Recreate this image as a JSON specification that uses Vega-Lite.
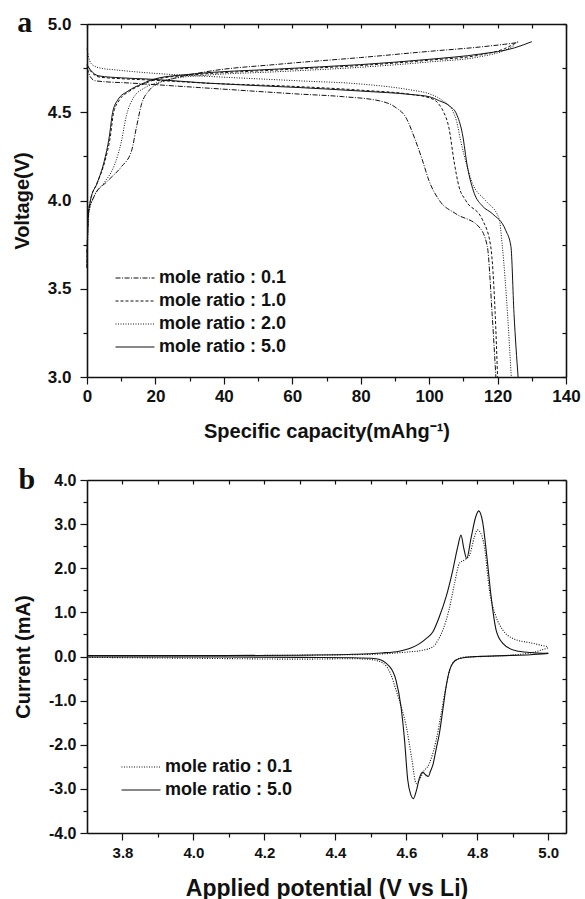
{
  "$schema": "https://vega.github.io/schema/vega-lite/v6.json",
  "padding": {"left": 12, "top": 8, "right": 0, "bottom": 0},
  "background": "white",
  "config": {
    "view": {"stroke": null},
    "font": "Liberation Sans",
    "axis": {"grid": false, "domainColor": "#111", "domainWidth": 1.6, "tickColor": "#111", "tickWidth": 1.2,
      "labelFont": "Liberation Sans", "labelFontWeight": "bold", "labelFontSize": 16, "labelColor": "#111",
      "titleFont": "Liberation Sans", "titleFontWeight": "bold", "titleFontSize": 20, "titleColor": "#111",
      "labelFlush": false, "labelOverlap": false},
    "legend": {"orient": "none", "title": null, "symbolType": "stroke", "symbolSize": 1521, "symbolStrokeColor": "#111",
      "symbolStrokeWidth": 1, "labelFont": "Liberation Sans", "labelFontWeight": "bold", "labelFontSize": 18,
      "labelColor": "#111", "labelOffset": 4, "clipHeight": 18, "rowPadding": 5, "padding": 0}
  },
  "datasets": {
    "cap": [
      {"x": 0, "v": 3.62, "ratio": "mole ratio : 5.0", "curve": "charge"},
      {"x": 0.3, "v": 3.9, "ratio": "mole ratio : 5.0", "curve": "charge"},
      {"x": 1, "v": 4.0, "ratio": "mole ratio : 5.0", "curve": "charge"},
      {"x": 3, "v": 4.1, "ratio": "mole ratio : 5.0", "curve": "charge"},
      {"x": 5, "v": 4.22, "ratio": "mole ratio : 5.0", "curve": "charge"},
      {"x": 6.5, "v": 4.36, "ratio": "mole ratio : 5.0", "curve": "charge"},
      {"x": 7.5, "v": 4.5, "ratio": "mole ratio : 5.0", "curve": "charge"},
      {"x": 9, "v": 4.57, "ratio": "mole ratio : 5.0", "curve": "charge"},
      {"x": 12, "v": 4.62, "ratio": "mole ratio : 5.0", "curve": "charge"},
      {"x": 16, "v": 4.66, "ratio": "mole ratio : 5.0", "curve": "charge"},
      {"x": 20, "v": 4.69, "ratio": "mole ratio : 5.0", "curve": "charge"},
      {"x": 30, "v": 4.715, "ratio": "mole ratio : 5.0", "curve": "charge"},
      {"x": 56, "v": 4.745, "ratio": "mole ratio : 5.0", "curve": "charge"},
      {"x": 80, "v": 4.77, "ratio": "mole ratio : 5.0", "curve": "charge"},
      {"x": 100, "v": 4.8, "ratio": "mole ratio : 5.0", "curve": "charge"},
      {"x": 115, "v": 4.83, "ratio": "mole ratio : 5.0", "curve": "charge"},
      {"x": 125, "v": 4.865, "ratio": "mole ratio : 5.0", "curve": "charge"},
      {"x": 130, "v": 4.9, "ratio": "mole ratio : 5.0", "curve": "charge"},

      {"x": 0, "v": 3.62, "ratio": "mole ratio : 1.0", "curve": "charge"},
      {"x": 0.3, "v": 3.9, "ratio": "mole ratio : 1.0", "curve": "charge"},
      {"x": 1, "v": 4.0, "ratio": "mole ratio : 1.0", "curve": "charge"},
      {"x": 3, "v": 4.1, "ratio": "mole ratio : 1.0", "curve": "charge"},
      {"x": 5.2, "v": 4.22, "ratio": "mole ratio : 1.0", "curve": "charge"},
      {"x": 6.8, "v": 4.36, "ratio": "mole ratio : 1.0", "curve": "charge"},
      {"x": 7.8, "v": 4.5, "ratio": "mole ratio : 1.0", "curve": "charge"},
      {"x": 9.5, "v": 4.57, "ratio": "mole ratio : 1.0", "curve": "charge"},
      {"x": 12.5, "v": 4.62, "ratio": "mole ratio : 1.0", "curve": "charge"},
      {"x": 16.5, "v": 4.66, "ratio": "mole ratio : 1.0", "curve": "charge"},
      {"x": 21, "v": 4.69, "ratio": "mole ratio : 1.0", "curve": "charge"},
      {"x": 30, "v": 4.71, "ratio": "mole ratio : 1.0", "curve": "charge"},
      {"x": 56, "v": 4.74, "ratio": "mole ratio : 1.0", "curve": "charge"},
      {"x": 80, "v": 4.765, "ratio": "mole ratio : 1.0", "curve": "charge"},
      {"x": 100, "v": 4.795, "ratio": "mole ratio : 1.0", "curve": "charge"},
      {"x": 115, "v": 4.825, "ratio": "mole ratio : 1.0", "curve": "charge"},
      {"x": 122, "v": 4.86, "ratio": "mole ratio : 1.0", "curve": "charge"},
      {"x": 126, "v": 4.9, "ratio": "mole ratio : 1.0", "curve": "charge"},

      {"x": 0, "v": 3.62, "ratio": "mole ratio : 2.0", "curve": "charge"},
      {"x": 0.5, "v": 3.92, "ratio": "mole ratio : 2.0", "curve": "charge"},
      {"x": 2, "v": 4.02, "ratio": "mole ratio : 2.0", "curve": "charge"},
      {"x": 5, "v": 4.1, "ratio": "mole ratio : 2.0", "curve": "charge"},
      {"x": 8, "v": 4.2, "ratio": "mole ratio : 2.0", "curve": "charge"},
      {"x": 10, "v": 4.33, "ratio": "mole ratio : 2.0", "curve": "charge"},
      {"x": 11.5, "v": 4.48, "ratio": "mole ratio : 2.0", "curve": "charge"},
      {"x": 13.5, "v": 4.58, "ratio": "mole ratio : 2.0", "curve": "charge"},
      {"x": 17, "v": 4.64, "ratio": "mole ratio : 2.0", "curve": "charge"},
      {"x": 21, "v": 4.67, "ratio": "mole ratio : 2.0", "curve": "charge"},
      {"x": 25, "v": 4.69, "ratio": "mole ratio : 2.0", "curve": "charge"},
      {"x": 35, "v": 4.71, "ratio": "mole ratio : 2.0", "curve": "charge"},
      {"x": 56, "v": 4.73, "ratio": "mole ratio : 2.0", "curve": "charge"},
      {"x": 80, "v": 4.755, "ratio": "mole ratio : 2.0", "curve": "charge"},
      {"x": 100, "v": 4.785, "ratio": "mole ratio : 2.0", "curve": "charge"},
      {"x": 115, "v": 4.815, "ratio": "mole ratio : 2.0", "curve": "charge"},
      {"x": 122, "v": 4.85, "ratio": "mole ratio : 2.0", "curve": "charge"},
      {"x": 125, "v": 4.88, "ratio": "mole ratio : 2.0", "curve": "charge"},

      {"x": 0, "v": 3.7, "ratio": "mole ratio : 0.1", "curve": "charge"},
      {"x": 0.5, "v": 3.94, "ratio": "mole ratio : 0.1", "curve": "charge"},
      {"x": 2, "v": 4.02, "ratio": "mole ratio : 0.1", "curve": "charge"},
      {"x": 6, "v": 4.11, "ratio": "mole ratio : 0.1", "curve": "charge"},
      {"x": 10, "v": 4.19, "ratio": "mole ratio : 0.1", "curve": "charge"},
      {"x": 13, "v": 4.28, "ratio": "mole ratio : 0.1", "curve": "charge"},
      {"x": 14.5, "v": 4.42, "ratio": "mole ratio : 0.1", "curve": "charge"},
      {"x": 16, "v": 4.55, "ratio": "mole ratio : 0.1", "curve": "charge"},
      {"x": 18, "v": 4.62, "ratio": "mole ratio : 0.1", "curve": "charge"},
      {"x": 21, "v": 4.665, "ratio": "mole ratio : 0.1", "curve": "charge"},
      {"x": 25, "v": 4.69, "ratio": "mole ratio : 0.1", "curve": "charge"},
      {"x": 35, "v": 4.73, "ratio": "mole ratio : 0.1", "curve": "charge"},
      {"x": 56, "v": 4.772, "ratio": "mole ratio : 0.1", "curve": "charge"},
      {"x": 80, "v": 4.81, "ratio": "mole ratio : 0.1", "curve": "charge"},
      {"x": 100, "v": 4.845, "ratio": "mole ratio : 0.1", "curve": "charge"},
      {"x": 115, "v": 4.87, "ratio": "mole ratio : 0.1", "curve": "charge"},
      {"x": 122, "v": 4.885, "ratio": "mole ratio : 0.1", "curve": "charge"},
      {"x": 126, "v": 4.895, "ratio": "mole ratio : 0.1", "curve": "charge"},

      {"x": 0, "v": 4.77, "ratio": "mole ratio : 5.0", "curve": "discharge"},
      {"x": 1, "v": 4.74, "ratio": "mole ratio : 5.0", "curve": "discharge"},
      {"x": 3.5, "v": 4.706, "ratio": "mole ratio : 5.0", "curve": "discharge"},
      {"x": 10, "v": 4.695, "ratio": "mole ratio : 5.0", "curve": "discharge"},
      {"x": 18, "v": 4.688, "ratio": "mole ratio : 5.0", "curve": "discharge"},
      {"x": 35, "v": 4.665, "ratio": "mole ratio : 5.0", "curve": "discharge"},
      {"x": 62, "v": 4.64, "ratio": "mole ratio : 5.0", "curve": "discharge"},
      {"x": 80, "v": 4.62, "ratio": "mole ratio : 5.0", "curve": "discharge"},
      {"x": 95, "v": 4.6, "ratio": "mole ratio : 5.0", "curve": "discharge"},
      {"x": 100, "v": 4.588, "ratio": "mole ratio : 5.0", "curve": "discharge"},
      {"x": 103, "v": 4.565, "ratio": "mole ratio : 5.0", "curve": "discharge"},
      {"x": 106, "v": 4.535, "ratio": "mole ratio : 5.0", "curve": "discharge"},
      {"x": 108, "v": 4.49, "ratio": "mole ratio : 5.0", "curve": "discharge"},
      {"x": 109.7, "v": 4.38, "ratio": "mole ratio : 5.0", "curve": "discharge"},
      {"x": 111.2, "v": 4.19, "ratio": "mole ratio : 5.0", "curve": "discharge"},
      {"x": 113.2, "v": 4.04, "ratio": "mole ratio : 5.0", "curve": "discharge"},
      {"x": 115.5, "v": 3.97, "ratio": "mole ratio : 5.0", "curve": "discharge"},
      {"x": 118.5, "v": 3.925, "ratio": "mole ratio : 5.0", "curve": "discharge"},
      {"x": 122.4, "v": 3.83, "ratio": "mole ratio : 5.0", "curve": "discharge"},
      {"x": 123.9, "v": 3.74, "ratio": "mole ratio : 5.0", "curve": "discharge"},
      {"x": 124.8, "v": 3.36, "ratio": "mole ratio : 5.0", "curve": "discharge"},
      {"x": 126, "v": 3.0, "ratio": "mole ratio : 5.0", "curve": "discharge"},

      {"x": 0, "v": 4.765, "ratio": "mole ratio : 1.0", "curve": "discharge"},
      {"x": 1, "v": 4.735, "ratio": "mole ratio : 1.0", "curve": "discharge"},
      {"x": 3.5, "v": 4.7, "ratio": "mole ratio : 1.0", "curve": "discharge"},
      {"x": 10, "v": 4.69, "ratio": "mole ratio : 1.0", "curve": "discharge"},
      {"x": 18, "v": 4.683, "ratio": "mole ratio : 1.0", "curve": "discharge"},
      {"x": 35, "v": 4.665, "ratio": "mole ratio : 1.0", "curve": "discharge"},
      {"x": 62, "v": 4.645, "ratio": "mole ratio : 1.0", "curve": "discharge"},
      {"x": 80, "v": 4.625, "ratio": "mole ratio : 1.0", "curve": "discharge"},
      {"x": 95, "v": 4.6, "ratio": "mole ratio : 1.0", "curve": "discharge"},
      {"x": 100, "v": 4.582, "ratio": "mole ratio : 1.0", "curve": "discharge"},
      {"x": 102, "v": 4.563, "ratio": "mole ratio : 1.0", "curve": "discharge"},
      {"x": 104, "v": 4.51, "ratio": "mole ratio : 1.0", "curve": "discharge"},
      {"x": 105.8, "v": 4.41, "ratio": "mole ratio : 1.0", "curve": "discharge"},
      {"x": 107.3, "v": 4.22, "ratio": "mole ratio : 1.0", "curve": "discharge"},
      {"x": 108.7, "v": 4.08, "ratio": "mole ratio : 1.0", "curve": "discharge"},
      {"x": 110.7, "v": 4.0, "ratio": "mole ratio : 1.0", "curve": "discharge"},
      {"x": 115.6, "v": 3.89, "ratio": "mole ratio : 1.0", "curve": "discharge"},
      {"x": 118, "v": 3.74, "ratio": "mole ratio : 1.0", "curve": "discharge"},
      {"x": 119.3, "v": 3.36, "ratio": "mole ratio : 1.0", "curve": "discharge"},
      {"x": 120, "v": 3.0, "ratio": "mole ratio : 1.0", "curve": "discharge"},

      {"x": 0, "v": 4.86, "ratio": "mole ratio : 2.0", "curve": "discharge"},
      {"x": 0.5, "v": 4.81, "ratio": "mole ratio : 2.0", "curve": "discharge"},
      {"x": 1.5, "v": 4.77, "ratio": "mole ratio : 2.0", "curve": "discharge"},
      {"x": 4, "v": 4.75, "ratio": "mole ratio : 2.0", "curve": "discharge"},
      {"x": 8.4, "v": 4.74, "ratio": "mole ratio : 2.0", "curve": "discharge"},
      {"x": 20, "v": 4.72, "ratio": "mole ratio : 2.0", "curve": "discharge"},
      {"x": 32.7, "v": 4.706, "ratio": "mole ratio : 2.0", "curve": "discharge"},
      {"x": 62, "v": 4.678, "ratio": "mole ratio : 2.0", "curve": "discharge"},
      {"x": 80, "v": 4.66, "ratio": "mole ratio : 2.0", "curve": "discharge"},
      {"x": 95, "v": 4.625, "ratio": "mole ratio : 2.0", "curve": "discharge"},
      {"x": 100, "v": 4.605, "ratio": "mole ratio : 2.0", "curve": "discharge"},
      {"x": 104, "v": 4.565, "ratio": "mole ratio : 2.0", "curve": "discharge"},
      {"x": 106.8, "v": 4.51, "ratio": "mole ratio : 2.0", "curve": "discharge"},
      {"x": 108, "v": 4.45, "ratio": "mole ratio : 2.0", "curve": "discharge"},
      {"x": 109.2, "v": 4.34, "ratio": "mole ratio : 2.0", "curve": "discharge"},
      {"x": 111, "v": 4.2, "ratio": "mole ratio : 2.0", "curve": "discharge"},
      {"x": 112.6, "v": 4.1, "ratio": "mole ratio : 2.0", "curve": "discharge"},
      {"x": 116.5, "v": 4.0, "ratio": "mole ratio : 2.0", "curve": "discharge"},
      {"x": 120.4, "v": 3.9, "ratio": "mole ratio : 2.0", "curve": "discharge"},
      {"x": 121.4, "v": 3.74, "ratio": "mole ratio : 2.0", "curve": "discharge"},
      {"x": 122.9, "v": 3.36, "ratio": "mole ratio : 2.0", "curve": "discharge"},
      {"x": 124, "v": 3.0, "ratio": "mole ratio : 2.0", "curve": "discharge"},

      {"x": 0, "v": 4.753, "ratio": "mole ratio : 0.1", "curve": "discharge"},
      {"x": 1, "v": 4.7, "ratio": "mole ratio : 0.1", "curve": "discharge"},
      {"x": 2.5, "v": 4.678, "ratio": "mole ratio : 0.1", "curve": "discharge"},
      {"x": 13, "v": 4.665, "ratio": "mole ratio : 0.1", "curve": "discharge"},
      {"x": 32.7, "v": 4.64, "ratio": "mole ratio : 0.1", "curve": "discharge"},
      {"x": 62, "v": 4.603, "ratio": "mole ratio : 0.1", "curve": "discharge"},
      {"x": 75, "v": 4.588, "ratio": "mole ratio : 0.1", "curve": "discharge"},
      {"x": 85.4, "v": 4.565, "ratio": "mole ratio : 0.1", "curve": "discharge"},
      {"x": 90, "v": 4.53, "ratio": "mole ratio : 0.1", "curve": "discharge"},
      {"x": 93.2, "v": 4.47, "ratio": "mole ratio : 0.1", "curve": "discharge"},
      {"x": 96, "v": 4.34, "ratio": "mole ratio : 0.1", "curve": "discharge"},
      {"x": 98, "v": 4.23, "ratio": "mole ratio : 0.1", "curve": "discharge"},
      {"x": 100, "v": 4.11, "ratio": "mole ratio : 0.1", "curve": "discharge"},
      {"x": 103, "v": 4.0, "ratio": "mole ratio : 0.1", "curve": "discharge"},
      {"x": 107.8, "v": 3.925, "ratio": "mole ratio : 0.1", "curve": "discharge"},
      {"x": 114.6, "v": 3.85, "ratio": "mole ratio : 0.1", "curve": "discharge"},
      {"x": 117, "v": 3.74, "ratio": "mole ratio : 0.1", "curve": "discharge"},
      {"x": 118.4, "v": 3.36, "ratio": "mole ratio : 0.1", "curve": "discharge"},
      {"x": 119.5, "v": 3.0, "ratio": "mole ratio : 0.1", "curve": "discharge"}
    ],
    "cv": [
      {"V": 3.7, "I": 0.02, "ratio": "mole ratio : 5.0", "branch": "anodic"},
      {"V": 4.0, "I": 0.02, "ratio": "mole ratio : 5.0", "branch": "anodic"},
      {"V": 4.3, "I": 0.03, "ratio": "mole ratio : 5.0", "branch": "anodic"},
      {"V": 4.45, "I": 0.05, "ratio": "mole ratio : 5.0", "branch": "anodic"},
      {"V": 4.53, "I": 0.08, "ratio": "mole ratio : 5.0", "branch": "anodic"},
      {"V": 4.58, "I": 0.12, "ratio": "mole ratio : 5.0", "branch": "anodic"},
      {"V": 4.609, "I": 0.18, "ratio": "mole ratio : 5.0", "branch": "anodic"},
      {"V": 4.635, "I": 0.28, "ratio": "mole ratio : 5.0", "branch": "anodic"},
      {"V": 4.655, "I": 0.4, "ratio": "mole ratio : 5.0", "branch": "anodic"},
      {"V": 4.675, "I": 0.56, "ratio": "mole ratio : 5.0", "branch": "anodic"},
      {"V": 4.693, "I": 0.9, "ratio": "mole ratio : 5.0", "branch": "anodic"},
      {"V": 4.712, "I": 1.35, "ratio": "mole ratio : 5.0", "branch": "anodic"},
      {"V": 4.731, "I": 1.96, "ratio": "mole ratio : 5.0", "branch": "anodic"},
      {"V": 4.745, "I": 2.49, "ratio": "mole ratio : 5.0", "branch": "anodic"},
      {"V": 4.754, "I": 2.75, "ratio": "mole ratio : 5.0", "branch": "anodic"},
      {"V": 4.762, "I": 2.45, "ratio": "mole ratio : 5.0", "branch": "anodic"},
      {"V": 4.77, "I": 2.22, "ratio": "mole ratio : 5.0", "branch": "anodic"},
      {"V": 4.783, "I": 2.71, "ratio": "mole ratio : 5.0", "branch": "anodic"},
      {"V": 4.795, "I": 3.15, "ratio": "mole ratio : 5.0", "branch": "anodic"},
      {"V": 4.804, "I": 3.3, "ratio": "mole ratio : 5.0", "branch": "anodic"},
      {"V": 4.815, "I": 3.05, "ratio": "mole ratio : 5.0", "branch": "anodic"},
      {"V": 4.827, "I": 2.26, "ratio": "mole ratio : 5.0", "branch": "anodic"},
      {"V": 4.839, "I": 1.35, "ratio": "mole ratio : 5.0", "branch": "anodic"},
      {"V": 4.853, "I": 0.6, "ratio": "mole ratio : 5.0", "branch": "anodic"},
      {"V": 4.872, "I": 0.3, "ratio": "mole ratio : 5.0", "branch": "anodic"},
      {"V": 4.909, "I": 0.13, "ratio": "mole ratio : 5.0", "branch": "anodic"},
      {"V": 4.95, "I": 0.09, "ratio": "mole ratio : 5.0", "branch": "anodic"},
      {"V": 5.0, "I": 0.07, "ratio": "mole ratio : 5.0", "branch": "anodic"},

      {"V": 3.7, "I": -0.01, "ratio": "mole ratio : 5.0", "branch": "cathodic"},
      {"V": 4.0, "I": -0.01, "ratio": "mole ratio : 5.0", "branch": "cathodic"},
      {"V": 4.3, "I": -0.02, "ratio": "mole ratio : 5.0", "branch": "cathodic"},
      {"V": 4.45, "I": -0.03, "ratio": "mole ratio : 5.0", "branch": "cathodic"},
      {"V": 4.515, "I": -0.05, "ratio": "mole ratio : 5.0", "branch": "cathodic"},
      {"V": 4.553, "I": -0.23, "ratio": "mole ratio : 5.0", "branch": "cathodic"},
      {"V": 4.571, "I": -0.54, "ratio": "mole ratio : 5.0", "branch": "cathodic"},
      {"V": 4.585, "I": -1.14, "ratio": "mole ratio : 5.0", "branch": "cathodic"},
      {"V": 4.595, "I": -1.9, "ratio": "mole ratio : 5.0", "branch": "cathodic"},
      {"V": 4.604, "I": -2.8, "ratio": "mole ratio : 5.0", "branch": "cathodic"},
      {"V": 4.612, "I": -3.12, "ratio": "mole ratio : 5.0", "branch": "cathodic"},
      {"V": 4.62, "I": -3.22, "ratio": "mole ratio : 5.0", "branch": "cathodic"},
      {"V": 4.628, "I": -3.05, "ratio": "mole ratio : 5.0", "branch": "cathodic"},
      {"V": 4.637, "I": -2.75, "ratio": "mole ratio : 5.0", "branch": "cathodic"},
      {"V": 4.646, "I": -2.62, "ratio": "mole ratio : 5.0", "branch": "cathodic"},
      {"V": 4.654, "I": -2.68, "ratio": "mole ratio : 5.0", "branch": "cathodic"},
      {"V": 4.662, "I": -2.72, "ratio": "mole ratio : 5.0", "branch": "cathodic"},
      {"V": 4.668, "I": -2.6, "ratio": "mole ratio : 5.0", "branch": "cathodic"},
      {"V": 4.675, "I": -2.45, "ratio": "mole ratio : 5.0", "branch": "cathodic"},
      {"V": 4.684, "I": -2.1, "ratio": "mole ratio : 5.0", "branch": "cathodic"},
      {"V": 4.693, "I": -1.75, "ratio": "mole ratio : 5.0", "branch": "cathodic"},
      {"V": 4.703, "I": -1.2, "ratio": "mole ratio : 5.0", "branch": "cathodic"},
      {"V": 4.712, "I": -0.69, "ratio": "mole ratio : 5.0", "branch": "cathodic"},
      {"V": 4.722, "I": -0.31, "ratio": "mole ratio : 5.0", "branch": "cathodic"},
      {"V": 4.74, "I": -0.08, "ratio": "mole ratio : 5.0", "branch": "cathodic"},
      {"V": 4.76, "I": -0.03, "ratio": "mole ratio : 5.0", "branch": "cathodic"},
      {"V": 4.8, "I": 0.0, "ratio": "mole ratio : 5.0", "branch": "cathodic"},
      {"V": 4.88, "I": 0.02, "ratio": "mole ratio : 5.0", "branch": "cathodic"},
      {"V": 4.95, "I": 0.04, "ratio": "mole ratio : 5.0", "branch": "cathodic"},
      {"V": 5.0, "I": 0.07, "ratio": "mole ratio : 5.0", "branch": "cathodic"},

      {"V": 3.7, "I": 0.02, "ratio": "mole ratio : 0.1", "branch": "anodic"},
      {"V": 4.0, "I": 0.02, "ratio": "mole ratio : 0.1", "branch": "anodic"},
      {"V": 4.3, "I": 0.03, "ratio": "mole ratio : 0.1", "branch": "anodic"},
      {"V": 4.5, "I": 0.05, "ratio": "mole ratio : 0.1", "branch": "anodic"},
      {"V": 4.6, "I": 0.1, "ratio": "mole ratio : 0.1", "branch": "anodic"},
      {"V": 4.645, "I": 0.14, "ratio": "mole ratio : 0.1", "branch": "anodic"},
      {"V": 4.675, "I": 0.22, "ratio": "mole ratio : 0.1", "branch": "anodic"},
      {"V": 4.69, "I": 0.38, "ratio": "mole ratio : 0.1", "branch": "anodic"},
      {"V": 4.703, "I": 0.6, "ratio": "mole ratio : 0.1", "branch": "anodic"},
      {"V": 4.72, "I": 1.05, "ratio": "mole ratio : 0.1", "branch": "anodic"},
      {"V": 4.736, "I": 1.66, "ratio": "mole ratio : 0.1", "branch": "anodic"},
      {"V": 4.75, "I": 2.12, "ratio": "mole ratio : 0.1", "branch": "anodic"},
      {"V": 4.764, "I": 2.19, "ratio": "mole ratio : 0.1", "branch": "anodic"},
      {"V": 4.778, "I": 2.3, "ratio": "mole ratio : 0.1", "branch": "anodic"},
      {"V": 4.792, "I": 2.71, "ratio": "mole ratio : 0.1", "branch": "anodic"},
      {"V": 4.8, "I": 2.87, "ratio": "mole ratio : 0.1", "branch": "anodic"},
      {"V": 4.81, "I": 2.79, "ratio": "mole ratio : 0.1", "branch": "anodic"},
      {"V": 4.82, "I": 2.49, "ratio": "mole ratio : 0.1", "branch": "anodic"},
      {"V": 4.834, "I": 1.51, "ratio": "mole ratio : 0.1", "branch": "anodic"},
      {"V": 4.853, "I": 0.9, "ratio": "mole ratio : 0.1", "branch": "anodic"},
      {"V": 4.872, "I": 0.6, "ratio": "mole ratio : 0.1", "branch": "anodic"},
      {"V": 4.9, "I": 0.41, "ratio": "mole ratio : 0.1", "branch": "anodic"},
      {"V": 4.956, "I": 0.3, "ratio": "mole ratio : 0.1", "branch": "anodic"},
      {"V": 5.0, "I": 0.22, "ratio": "mole ratio : 0.1", "branch": "anodic"},

      {"V": 3.7, "I": -0.02, "ratio": "mole ratio : 0.1", "branch": "cathodic"},
      {"V": 4.0, "I": -0.04, "ratio": "mole ratio : 0.1", "branch": "cathodic"},
      {"V": 4.3, "I": -0.06, "ratio": "mole ratio : 0.1", "branch": "cathodic"},
      {"V": 4.45, "I": -0.05, "ratio": "mole ratio : 0.1", "branch": "cathodic"},
      {"V": 4.5, "I": -0.07, "ratio": "mole ratio : 0.1", "branch": "cathodic"},
      {"V": 4.534, "I": -0.15, "ratio": "mole ratio : 0.1", "branch": "cathodic"},
      {"V": 4.555, "I": -0.38, "ratio": "mole ratio : 0.1", "branch": "cathodic"},
      {"V": 4.571, "I": -0.76, "ratio": "mole ratio : 0.1", "branch": "cathodic"},
      {"V": 4.586, "I": -1.15, "ratio": "mole ratio : 0.1", "branch": "cathodic"},
      {"V": 4.6, "I": -1.59, "ratio": "mole ratio : 0.1", "branch": "cathodic"},
      {"V": 4.615, "I": -2.3, "ratio": "mole ratio : 0.1", "branch": "cathodic"},
      {"V": 4.628, "I": -2.88, "ratio": "mole ratio : 0.1", "branch": "cathodic"},
      {"V": 4.637, "I": -2.8, "ratio": "mole ratio : 0.1", "branch": "cathodic"},
      {"V": 4.646, "I": -2.64, "ratio": "mole ratio : 0.1", "branch": "cathodic"},
      {"V": 4.665, "I": -2.42, "ratio": "mole ratio : 0.1", "branch": "cathodic"},
      {"V": 4.684, "I": -1.9, "ratio": "mole ratio : 0.1", "branch": "cathodic"},
      {"V": 4.698, "I": -1.3, "ratio": "mole ratio : 0.1", "branch": "cathodic"},
      {"V": 4.71, "I": -0.76, "ratio": "mole ratio : 0.1", "branch": "cathodic"},
      {"V": 4.73, "I": -0.15, "ratio": "mole ratio : 0.1", "branch": "cathodic"},
      {"V": 4.76, "I": -0.02, "ratio": "mole ratio : 0.1", "branch": "cathodic"},
      {"V": 4.85, "I": 0.01, "ratio": "mole ratio : 0.1", "branch": "cathodic"},
      {"V": 4.95, "I": 0.08, "ratio": "mole ratio : 0.1", "branch": "cathodic"},
      {"V": 5.0, "I": 0.2, "ratio": "mole ratio : 0.1", "branch": "cathodic"}
    ]
  },
  "spacing": 24,
  "resolve": {"scale": {"strokeDash": "independent"}, "legend": {"strokeDash": "independent"}},
  "vconcat": [
    {
      "width": 479,
      "height": 353,
      "data": {"name": "cap"},
      "title": {"text": "a", "anchor": "start", "frame": "bounds", "font": "Liberation Serif", "fontSize": 30, "fontWeight": "bold", "color": "#111", "baseline": "alphabetic", "offset": -47, "dx": 5},
      "resolve": {"axis": {"x": "independent", "y": "independent"}},
      "layer": [
        {
          "mark": {"type": "line", "color": "#111", "strokeWidth": 1, "interpolate": "monotone"},
          "encoding": {
            "x": {"field": "x", "type": "quantitative", "scale": {"domain": [0, 140], "nice": false},
              "axis": {"orient": "bottom", "title": "Specific capacity(mAhg⁻¹)",
                "values": [0, 10, 20, 30, 40, 50, 60, 70, 80, 90, 100, 110, 120, 130, 140],
                "labelExpr": "datum.value % 20 === 0 ? datum.label : ''",
                "tickSize": {"condition": {"test": "datum.value % 20 !== 0", "value": 4}, "value": 7},
                "labelFontSize": 17, "labelPadding": 4, "titlePadding": 17}},
            "y": {"field": "v", "type": "quantitative", "scale": {"domain": [3, 5], "nice": false, "zero": false},
              "axis": {"orient": "left", "title": "Voltage(V)",
                "values": [3, 3.25, 3.5, 3.75, 4, 4.25, 4.5, 4.75, 5],
                "format": ".1f",
                "labelExpr": "(datum.value * 2) % 1 === 0 ? datum.label : ''",
                "tickSize": {"condition": {"test": "(datum.value * 2) % 1 !== 0", "value": 4}, "value": 7},
                "labelFontSize": 17, "labelPadding": 9, "titlePadding": 15}},
            "strokeDash": {"field": "ratio", "type": "nominal",
              "scale": {"domain": ["mole ratio : 0.1", "mole ratio : 1.0", "mole ratio : 2.0", "mole ratio : 5.0"],
                "range": [[5, 1.5, 1, 1.5], [3, 2], [1, 1.5], []]},
              "legend": {"legendX": 28, "legendY": 245}},
            "detail": {"field": "curve"}
          }
        },
        {
          "mark": {"type": "point", "opacity": 0},
          "encoding": {
            "x": {"field": "x", "type": "quantitative",
              "axis": {"orient": "top", "title": null, "labels": false, "tickSize": -4, "minExtent": 0, "maxExtent": 0,
                "values": [0, 10, 20, 30, 40, 50, 60, 70, 80, 90, 100, 110, 120, 130, 140]}},
            "y": {"field": "v", "type": "quantitative",
              "axis": {"orient": "right", "title": null, "labels": false, "tickSize": -4, "minExtent": 0, "maxExtent": 0,
                "values": [3, 3.25, 3.5, 3.75, 4, 4.25, 4.5, 4.75, 5]}}
          }
        }
      ]
    },
    {
      "width": 479,
      "height": 353,
      "data": {"name": "cv"},
      "title": {"text": "b", "anchor": "start", "frame": "bounds", "font": "Liberation Serif", "fontSize": 30, "fontWeight": "bold", "color": "#111", "baseline": "alphabetic", "offset": -47, "dx": 5},
      "resolve": {"axis": {"x": "independent", "y": "independent"}},
      "layer": [
        {
          "mark": {"type": "line", "color": "#111", "strokeWidth": 1.1, "interpolate": "monotone"},
          "encoding": {
            "x": {"field": "V", "type": "quantitative", "scale": {"domain": [3.7, 5.05], "nice": false, "zero": false},
              "axis": {"orient": "bottom", "title": "Applied potential (V vs Li)",
                "values": [3.8, 3.9, 4.0, 4.1, 4.2, 4.3, 4.4, 4.5, 4.6, 4.7, 4.8, 4.9, 5.0],
                "format": ".1f",
                "labelExpr": "round(datum.value * 10) % 2 === 0 ? datum.label : ''",
                "tickSize": {"condition": {"test": "round(datum.value * 10) % 2 !== 0", "value": 4}, "value": 7},
                "labelFontSize": 15, "labelPadding": 5, "titleFontSize": 23, "titlePadding": 17}},
            "y": {"field": "I", "type": "quantitative", "scale": {"domain": [-4, 4], "nice": false},
              "axis": {"orient": "left", "title": "Current (mA)",
                "values": [-4, -3.5, -3, -2.5, -2, -1.5, -1, -0.5, 0, 0.5, 1, 1.5, 2, 2.5, 3, 3.5, 4],
                "format": ".1f",
                "labelExpr": "datum.value % 1 === 0 ? replace(datum.label, '−', '-') : ''",
                "tickSize": {"condition": {"test": "datum.value % 1 !== 0", "value": 4}, "value": 7},
                "labelFontSize": 16, "labelPadding": 4, "titlePadding": 15}},
            "strokeDash": {"field": "ratio", "type": "nominal",
              "scale": {"domain": ["mole ratio : 0.1", "mole ratio : 5.0"], "range": [[1, 1.5], []]},
              "legend": {"legendX": 34, "legendY": 278}},
            "detail": {"field": "branch"}
          }
        },
        {
          "mark": {"type": "point", "opacity": 0},
          "encoding": {
            "x": {"field": "V", "type": "quantitative",
              "axis": {"orient": "top", "title": null, "labels": false, "tickSize": -4, "minExtent": 0, "maxExtent": 0,
                "values": [3.8, 3.9, 4.0, 4.1, 4.2, 4.3, 4.4, 4.5, 4.6, 4.7, 4.8, 4.9, 5.0]}},
            "y": {"field": "I", "type": "quantitative",
              "axis": {"orient": "right", "title": null, "labels": false, "tickSize": -4, "minExtent": 0, "maxExtent": 0,
                "values": [-4, -3.5, -3, -2.5, -2, -1.5, -1, -0.5, 0, 0.5, 1, 1.5, 2, 2.5, 3, 3.5, 4]}}
          }
        }
      ]
    }
  ]
}
